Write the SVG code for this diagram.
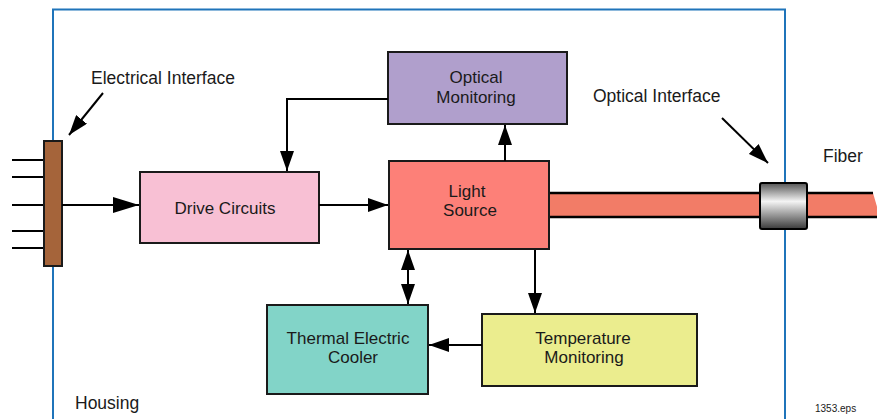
<svg xmlns="http://www.w3.org/2000/svg" width="877" height="419" viewBox="0 0 877 419">
<style>
  text { font-family: "Liberation Sans", Arial, Helvetica, sans-serif; font-size: 17.5px; fill: #1a1a1a; }
  .lbl { text-anchor: middle; font-size: 17px; }
  .box { stroke: #1a1a1a; stroke-width: 2; }
  .conn { stroke: #000; stroke-width: 2; fill: none; }
  .pin { stroke: #000; stroke-width: 2; }
</style>
<defs>
  <marker id="ah" viewBox="0 0 20 14" refX="20" refY="7" markerWidth="20" markerHeight="14" markerUnits="userSpaceOnUse" orient="auto-start-reverse">
    <path d="M0,0 L20,7 L0,14 z" fill="#000"/>
  </marker>
  <marker id="ahBig" viewBox="0 0 26 16" refX="26" refY="8" markerWidth="26" markerHeight="16" markerUnits="userSpaceOnUse" orient="auto">
    <path d="M0,0 L26,8 L0,16 z" fill="#000"/>
  </marker>
  <linearGradient id="ferrule" x1="0" y1="0" x2="0" y2="1">
    <stop offset="0" stop-color="#555"/>
    <stop offset="0.4" stop-color="#f4f4f4"/>
    <stop offset="1" stop-color="#3a3a3a"/>
  </linearGradient>
</defs>

<g id="housing">
  <rect x="53" y="9.5" width="732" height="430" fill="none" stroke="#1f74ba" stroke-width="2"/>
  <text x="75" y="409">Housing</text>
</g>

<g id="fiber">
  <path d="M549,193 H873 L880,217 H549 Z" fill="#f27c67" stroke="none"/>
  <path d="M549,193 H873 M549,217 H880" stroke="#000" stroke-width="2.5" fill="none"/>
  <text x="823" y="162">Fiber</text>
</g>

<g id="connector-ferrule">
  <rect x="760" y="183" width="47" height="46" rx="2" fill="url(#ferrule)" stroke="#000" stroke-width="2"/>
</g>

<g id="electrical-interface">
  <line class="pin" x1="12" y1="160" x2="44" y2="160"/>
  <line class="pin" x1="12" y1="177" x2="44" y2="177"/>
  <line class="pin" x1="12" y1="205" x2="44" y2="205" stroke-width="4"/>
  <line class="pin" x1="12" y1="231" x2="44" y2="231"/>
  <line class="pin" x1="12" y1="248" x2="44" y2="248"/>
  <rect x="44" y="141" width="18" height="125" fill="#a5643a" stroke="#1a1a1a" stroke-width="2"/>
  <text x="91" y="84">Electrical Interface</text>
</g>

<g id="optical-interface">
  <text x="593" y="102">Optical Interface</text>
</g>

<g id="optical-monitoring">
  <rect class="box" x="388" y="52" width="179" height="72" fill="#b09fcc"/>
  <text class="lbl" x="476" y="83">Optical</text>
  <text class="lbl" x="476" y="102.5">Monitoring</text>
</g>

<g id="light-source">
  <rect class="box" x="389" y="161" width="160" height="88" fill="#fd8078"/>
  <text class="lbl" x="467" y="196.5">Light</text>
  <text class="lbl" x="470" y="216">Source</text>
</g>

<g id="drive-circuits">
  <rect class="box" x="140" y="172" width="179" height="71" fill="#f8c0d4"/>
  <text class="lbl" x="225" y="214">Drive Circuits</text>
</g>

<g id="thermal-electric-cooler">
  <rect class="box" x="267" y="305" width="161" height="89" fill="#82d4c8"/>
  <text class="lbl" x="348" y="343.5">Thermal Electric</text>
  <text class="lbl" x="353" y="363">Cooler</text>
</g>

<g id="temperature-monitoring">
  <rect class="box" x="482" y="314" width="215" height="72" fill="#ebed8e"/>
  <text class="lbl" x="583" y="343.5">Temperature</text>
  <text class="lbl" x="584" y="363">Monitoring</text>
</g>

<g id="connectors">
  <line class="conn" x1="62" y1="205" x2="139" y2="205" stroke-width="3.5" marker-end="url(#ahBig)"/>
  <line class="conn" x1="319" y1="205" x2="388" y2="205" marker-end="url(#ah)"/>
  <polyline class="conn" points="388,99 287,99 287,171" marker-end="url(#ah)"/>
  <line class="conn" x1="505" y1="161" x2="505" y2="125" marker-end="url(#ah)"/>
  <line class="conn" x1="408" y1="250" x2="408" y2="304" marker-start="url(#ah)" marker-end="url(#ah)"/>
  <line class="conn" x1="535" y1="250" x2="535" y2="313" marker-end="url(#ah)"/>
  <line class="conn" x1="482" y1="345" x2="429" y2="345" marker-end="url(#ah)"/>
  <line class="conn" x1="103" y1="93" x2="69" y2="135" marker-end="url(#ah)"/>
  <line class="conn" x1="722" y1="118" x2="768" y2="163" marker-end="url(#ah)"/>
</g>

<text x="815" y="412" style="font-size:10px">1353.eps</text>
</svg>
